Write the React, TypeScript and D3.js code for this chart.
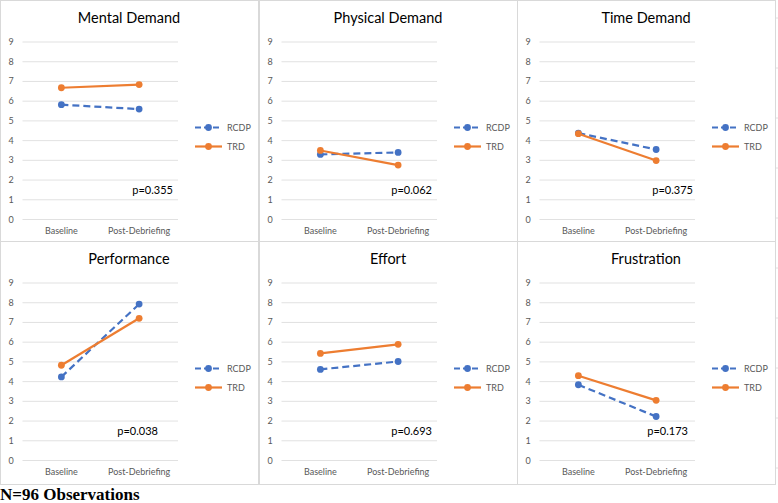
import React from 'react';
import { scaleLinear, scalePoint, line, range } from 'd3';

const titles = ['Mental Demand', 'Physical Demand', 'Time Demand', 'Performance', 'Effort', 'Frustration'];
const phases = ['Baseline', 'Post-Debriefing'];
const rcdp = [[5.82, 5.6], [3.3, 3.4], [4.38, 3.55], [4.24, 7.93], [4.62, 5.02], [3.84, 2.23]];
const trd = [[6.68, 6.84], [3.5, 2.76], [4.35, 2.99], [4.83, 7.21], [5.43, 5.89], [4.3, 3.05]];
const pValues = ['p=0.355', 'p=0.062', 'p=0.375', 'p=0.038', 'p=0.693', 'p=0.173'];
const yTicks = range(0, 10);

// layout only
const pRight = [173, 173, 176, 158, 173, 171];
const colX = [0, 259, 517];
const rowY = [0, 241];
const panelW = 258;
const panelH = 244;

const BLUE = '#4472C4';
const ORANGE = '#ED7D31';
const FONT = 'Lato, "Open Sans", sans-serif';

const Panel: React.FC<{ i: number }> = ({ i }) => {
  const x0 = colX[i % 3];
  const y0 = rowY[Math.floor(i / 3)];
  const left = 22.5, right = 178, top = 42, bottom = 219.5;
  const x = scalePoint().domain(phases).range([left, right]).padding(0.5);
  const y = scaleLinear().domain([0, 9]).range([bottom, top]);
  const gen = line<number>().x((_, k) => x(phases[k]) as number).y((d) => y(d));
  const series = [
    { name: 'RCDP', vals: rcdp[i], color: BLUE, dash: '7,4' },
    { name: 'TRD', vals: trd[i], color: ORANGE, dash: undefined },
  ];
  return (
    <g transform={`translate(${x0},${y0})`}>
      <rect x={0.5} y={0.5} width={panelW} height={panelH - 1} fill="#fff" stroke="#d9d9d9" />
      <text x={129} y={23} textAnchor="middle" fontSize={14.5} fill="#000" fontFamily={FONT}>
        {titles[i]}
      </text>
      {yTicks.map((t) => (
        <g key={t}>
          <line x1={left} x2={right} y1={y(t)} y2={y(t)} stroke="#d9d9d9" strokeWidth={0.8} />
          <text x={11} y={y(t) + 3} textAnchor="middle" fontSize={9} fill="#595959" fontFamily={FONT}>
            {t}
          </text>
        </g>
      ))}
      {phases.map((p) => (
        <text key={p} x={x(p)} y={234} textAnchor="middle" fontSize={9} fill="#595959" fontFamily={FONT}>
          {p}
        </text>
      ))}
      {series.map((s) => (
        <g key={s.name}>
          <path d={gen(s.vals) || ''} fill="none" stroke={s.color} strokeWidth={2.2} strokeDasharray={s.dash} />
          {s.vals.map((v, k) => (
            <circle key={k} cx={x(phases[k])} cy={y(v)} r={3.4} fill={s.color} />
          ))}
        </g>
      ))}
      <text x={pRight[i]} y={194} textAnchor="end" fontSize={11} fill="#000" fontFamily={FONT}>
        {pValues[i]}
      </text>
      {series.map((s, k) => {
        const ly = 127.5 + k * 19;
        return (
          <g key={s.name}>
            <line x1={195} x2={222} y1={ly} y2={ly} stroke={s.color} strokeWidth={2.2} strokeDasharray={s.dash ? '6,3' : undefined} />
            <circle cx={208.5} cy={ly} r={3.4} fill={s.color} />
            <text x={227} y={ly + 3} fontSize={9} fill="#595959" fontFamily={FONT}>
              {s.name}
            </text>
          </g>
        );
      })}
    </g>
  );
};

export default function App() {
  return (
    <svg width={778} height={503} style={{ position: 'absolute', left: 0, top: 0, background: '#fff' }}>
      {range(0, 10).map((k) => (
        <line key={k} x1={776} x2={778} y1={18 + k * 50} y2={18 + k * 50} stroke="#e0e0e0" />
      ))}
      {titles.map((_, i) => (
        <Panel key={i} i={i} />
      ))}
      <text x={0} y={500} fontSize={17} fontWeight="bold" fontFamily='"Liberation Serif", "Times New Roman", serif' fill="#000">
        N=96 Observations
      </text>
    </svg>
  );
}
